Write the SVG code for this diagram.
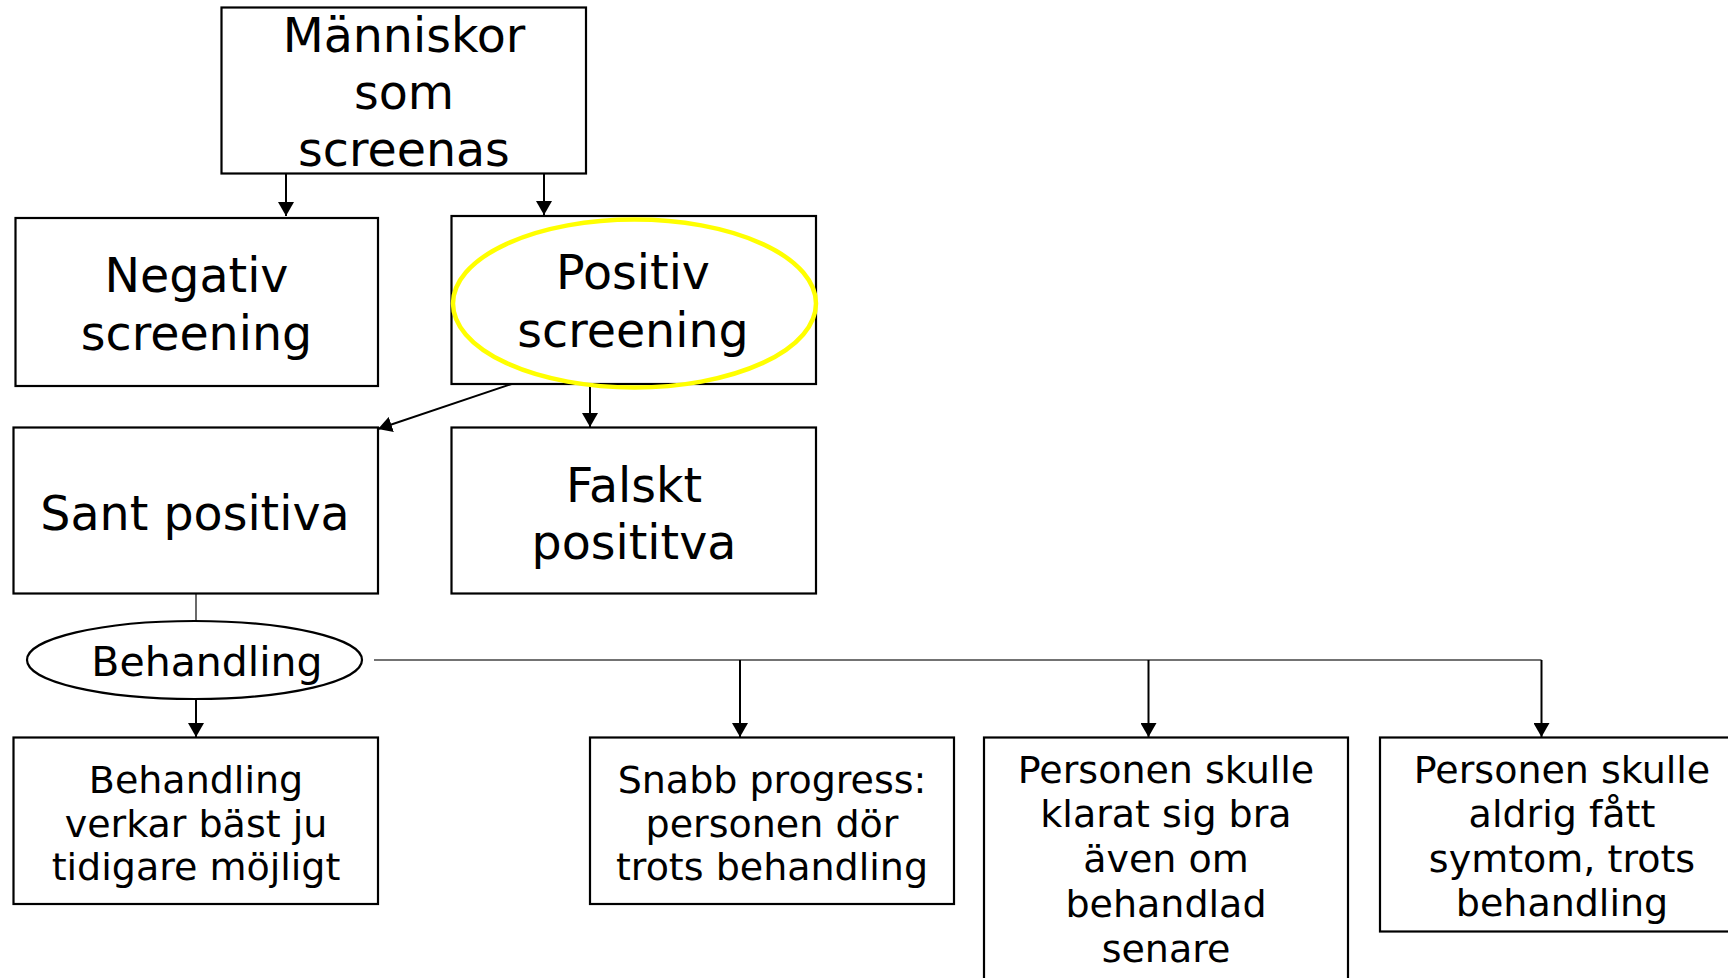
<svg xmlns="http://www.w3.org/2000/svg" width="1728" height="978" viewBox="0 0 1728 978">
<defs>
<style>
.box{fill:#fff;stroke:#000;stroke-width:2.2}
.t{font-family:"DejaVu Sans",Verdana,sans-serif;fill:#000;text-anchor:middle}
.big{font-size:47.5px}
.sm{font-size:38px}
.ln{fill:none;stroke:#000;stroke-width:2}
.gl{fill:none;stroke:#444;stroke-width:1.6}
</style>
<marker id="ah2" viewBox="0 0 14 16" refX="14" refY="8" markerWidth="14" markerHeight="16" markerUnits="userSpaceOnUse" orient="auto">
<path d="M0,0 L14,8 L0,16 z" fill="#000"/>
</marker>
</defs>
<rect width="1728" height="978" fill="#fff"/>

<g id="connectors">
<line class="ln" x1="286" y1="174" x2="286" y2="216" marker-end="url(#ah2)"/>
<line class="ln" x1="544" y1="174" x2="544" y2="215" marker-end="url(#ah2)"/>
<line class="ln" x1="511.5" y1="384" x2="378" y2="429" marker-end="url(#ah2)"/>
<line class="ln" x1="590" y1="385" x2="590" y2="427" marker-end="url(#ah2)"/>
<line class="gl" x1="196" y1="594" x2="196" y2="621"/>
<line class="ln" x1="196" y1="699" x2="196" y2="737" marker-end="url(#ah2)"/>
<polyline class="gl" points="374,660 1541.5,660"/>
<line class="ln" x1="740" y1="660" x2="740" y2="737" marker-end="url(#ah2)"/>
<line class="ln" x1="1148.5" y1="660" x2="1148.5" y2="737" marker-end="url(#ah2)"/>
<line class="ln" x1="1541.5" y1="660" x2="1541.5" y2="737" marker-end="url(#ah2)"/>
</g>

<g id="n-manniskor">
<rect class="box" x="221.5" y="7.5" width="364.5" height="166"/>
<text class="t big" x="404" y="52">Människor</text>
<text class="t big" x="404" y="109">som</text>
<text class="t big" x="404" y="166">screenas</text>
</g>

<g id="n-negativ">
<rect class="box" x="15.5" y="218" width="362.5" height="168"/>
<text class="t big" x="196.5" y="292">Negativ</text>
<text class="t big" x="196.5" y="349.5">screening</text>
</g>

<g id="n-positiv">
<rect class="box" x="451.5" y="216" width="364.5" height="168"/>
<text class="t big" x="633" y="289">Positiv</text>
<text class="t big" x="633" y="346.5">screening</text>
<ellipse cx="634.5" cy="303.5" rx="181.5" ry="84" fill="none" stroke="#ffff00" stroke-width="4.5"/>
</g>

<g id="n-sant">
<rect class="box" x="13.5" y="427.5" width="364.5" height="166"/>
<text class="t big" x="195" y="530">Sant positiva</text>
</g>

<g id="n-falskt">
<rect class="box" x="451.5" y="427.5" width="364.5" height="166"/>
<text class="t big" x="634" y="501.5">Falskt</text>
<text class="t big" x="634" y="558.5">posititva</text>
</g>

<g id="n-behandling-oval">
<ellipse cx="194.5" cy="660" rx="167.5" ry="39" fill="#fff" stroke="#000" stroke-width="2.2"/>
<text class="t" style="font-size:41px" x="207" y="676">Behandling</text>
</g>

<g id="n-behandling-box">
<rect class="box" x="13.5" y="737.5" width="364.5" height="166.5"/>
<text class="t sm" x="196" y="792.5">Behandling</text>
<text class="t sm" x="196" y="836.5">verkar bäst ju</text>
<text class="t sm" x="196" y="880">tidigare möjligt</text>
</g>

<g id="n-snabb">
<rect class="box" x="590" y="737.5" width="364" height="166.5"/>
<text class="t sm" x="772" y="792.5">Snabb progress:</text>
<text class="t sm" x="772" y="836.5">personen dör</text>
<text class="t sm" x="772" y="880">trots behandling</text>
</g>

<g id="n-klarat">
<rect class="box" x="984" y="737.5" width="364" height="260"/>
<text class="t sm" x="1166" y="783">Personen skulle</text>
<text class="t sm" x="1166" y="827">klarat sig bra</text>
<text class="t sm" x="1166" y="872">även om</text>
<text class="t sm" x="1166" y="916.5">behandlad</text>
<text class="t sm" x="1166" y="961.5">senare</text>
</g>

<g id="n-aldrig">
<rect class="box" x="1380" y="737.5" width="364" height="194"/>
<text class="t sm" x="1562" y="783">Personen skulle</text>
<text class="t sm" x="1562" y="827">aldrig fått</text>
<text class="t sm" x="1562" y="872">symtom, trots</text>
<text class="t sm" x="1562" y="916">behandling</text>
</g>
</svg>
